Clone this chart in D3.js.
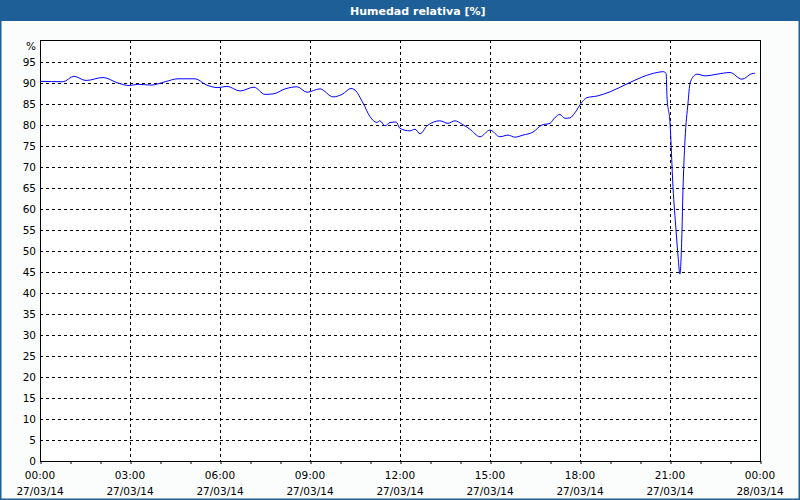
<!DOCTYPE html>
<html><head><meta charset="utf-8">
<script src="https://cdn.jsdelivr.net/npm/d3@7"></script>
<style>
html,body{margin:0;padding:0;background:#fbfdfd;}
svg{display:block;}
text{font-family:"DejaVu Sans",Tahoma,sans-serif;}
</style></head>
<body><svg id="c" width="800" height="500"></svg>
<script>
const title = "Humedad relativa [%]";
const unitLabel = "%";
// hours since 27/03/14 00:00
const hours = [0.00,0.77,1.13,1.53,2.10,2.60,2.97,3.27,3.70,4.17,4.60,5.17,5.53,5.93,6.23,6.67,7.13,7.50,7.77,8.17,8.57,8.90,9.33,9.77,10.07,10.37,10.50,10.77,11.00,11.23,11.33,11.50,11.67,11.87,12.00,12.33,12.50,12.67,12.90,13.33,13.60,13.83,14.07,14.33,14.67,15.00,15.33,15.60,15.83,16.10,16.43,16.73,17.00,17.17,17.33,17.50,17.67,17.83,18.07,18.23,18.57,19.00,19.57,20.10,20.57,20.77,20.87,20.90,21.00,21.10,21.20,21.27,21.33,21.40,21.43,21.50,21.60,21.67,21.83,21.90,22.17,22.57,23.00,23.40,23.77,23.83];
const humidity = [90.4,90.3,91.6,90.6,91.3,90.0,89.4,89.7,89.5,90.3,91.0,91.0,89.6,88.9,89.2,88.1,89.0,87.3,87.4,88.6,89.1,87.8,88.6,86.7,87.3,88.7,88.3,85.2,82.0,80.6,81.0,79.8,80.6,80.7,79.2,78.6,79.0,77.9,79.8,81.0,80.4,81.0,80.2,79.0,77.2,78.8,77.2,77.6,77.1,77.6,78.3,80.0,80.4,81.8,82.5,81.6,81.7,82.9,85.5,86.5,86.9,87.9,89.8,91.5,92.5,92.7,92.3,86.7,80.5,65.2,55.0,48.6,44.5,55.0,63.8,76.4,85.2,90.0,91.9,92.1,91.7,92.1,92.5,90.9,92.3,92.3];
const yTicks = [0,5,10,15,20,25,30,35,40,45,50,55,60,65,70,75,80,85,90,95];
const xTickHours = [0,3,6,9,12,15,18,21,24];
const xTickTimes = ["00:00","03:00","06:00","09:00","12:00","15:00","18:00","21:00","00:00"];
const xTickDates = ["27/03/14","27/03/14","27/03/14","27/03/14","27/03/14","27/03/14","27/03/14","27/03/14","28/03/14"];

const svg = d3.select("#c");
const W = 800, H = 500;
const blue = "#1d5f96";
const L = 40, R = 761, T = 40, B = 461;

// frame & title bar
svg.append("rect").attr("x",0.5).attr("y",0.5).attr("width",W-1).attr("height",H-1)
  .attr("fill","#fbfdfd").attr("stroke",blue).attr("stroke-width",2);
svg.append("rect").attr("x",0).attr("y",0).attr("width",W).attr("height",21).attr("fill",blue);
svg.append("text").attr("x",350).attr("y",15).attr("fill","#fff")
  .attr("font-size",11).attr("font-weight","bold").text(title);

const x = d3.scaleLinear().domain([0,24]).range([L,R-1]);
const y = d3.scaleLinear().domain([0,100]).range([B,B-420]);

// plot background
svg.append("rect").attr("x",L).attr("y",T).attr("width",R-L).attr("height",B-T).attr("fill","#fff");

// grid
const g = svg.append("g");
g.selectAll("line.h").data(yTicks.filter(d=>d>0)).join("line")
  .attr("x1",L).attr("x2",R).attr("y1",d=>Math.round(y(d))+0.5).attr("y2",d=>Math.round(y(d))+0.5)
  .attr("stroke","#000").attr("stroke-dasharray","3,3").attr("stroke-width",1);
g.selectAll("line.v").data(xTickHours.filter(d=>d>0&&d<24)).join("line")
  .attr("y1",T).attr("y2",B).attr("x1",d=>Math.round(x(d))+0.5).attr("x2",d=>Math.round(x(d))+0.5)
  .attr("stroke","#000").attr("stroke-dasharray","3,3").attr("stroke-width",1);

// y labels
svg.selectAll("text.yl").data(yTicks).join("text")
  .attr("x",36).attr("y",d=>y(d)+4).attr("text-anchor","end")
  .attr("font-size",10.5).attr("fill","#000").text(d=>d);
svg.append("text").attr("x",36).attr("y",50).attr("text-anchor","end")
  .attr("font-size",10.5).attr("fill","#000").text(unitLabel);

// x axis minor ticks
const xAxis = d3.axisBottom(x).ticks(24).tickValues(d3.range(0,25)).tickSize(3).tickFormat("");
const ax = svg.append("g").attr("transform",`translate(0.5,${B})`).call(xAxis);
ax.select(".domain").remove();
ax.selectAll("line").attr("stroke","#000");

// x labels
svg.selectAll("text.xt").data(xTickHours).join("text")
  .attr("x",d=>x(d)).attr("y",479).attr("text-anchor","middle")
  .attr("font-size",10.5).attr("fill","#000").text((d,i)=>xTickTimes[i]);
svg.selectAll("text.xd").data(xTickHours).join("text")
  .attr("x",d=>x(d)).attr("y",495).attr("text-anchor","middle")
  .attr("font-size",10.5).attr("fill","#000").text((d,i)=>xTickDates[i]);

// line
const line = d3.line().x((d,i)=>x(hours[i])).y(d=>y(d)).curve(d3.curveMonotoneX);
svg.append("path").datum(humidity).attr("d",line)
  .attr("fill","none").attr("stroke","#0000ff").attr("stroke-width",1);

// plot frame
svg.append("rect").attr("x",L+0.5).attr("y",T+0.5).attr("width",R-L-1).attr("height",B-T)
  .attr("fill","none").attr("stroke","#000").attr("stroke-width",1);
</script></body></html>
